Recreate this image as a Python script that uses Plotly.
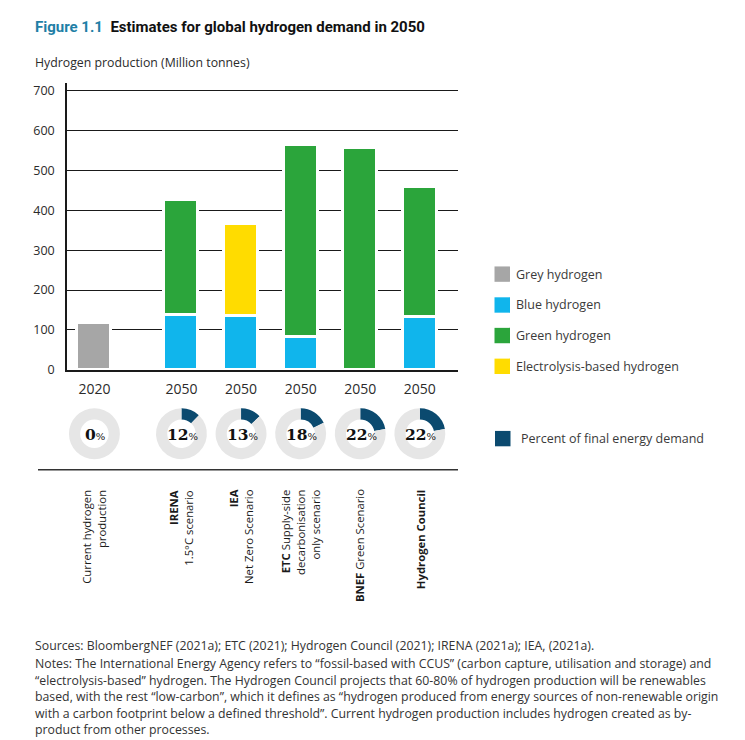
import plotly.graph_objects as go

# ---------------- data ----------------
years = ["2020", "2050", "2050", "2050", "2050", "2050"]
scenario_labels = [
    "Current hydrogen<br>production",
    "<b>IRENA</b><br>1.5°C scenario",
    "<b>IEA</b><br>Net Zero Scenario",
    "<b>ETC</b> Supply-side<br>decarbonisation<br>only scenario",
    "<b>BNEF</b> Green Scenario",
    "<b>Hydrogen Council</b>",
]
grey_h2 = [117, None, None, None, None, None]
blue_h2 = [None, 138, 136, 82, None, 134]
green_h2 = [None, 288, None, 483, 556, 324]
electrolysis_h2 = [None, None, 229, None, None, None]
pct_final_energy = [0, 12, 13, 18, 22, 22]

series_names = ["Grey hydrogen", "Blue hydrogen", "Green hydrogen", "Electrolysis-based hydrogen"]
series_colors = ["#a6a6a6", "#10b5ec", "#2ba53b", "#ffdc00"]
pct_name = "Percent of final energy demand"
navy = "#0b4a6f"
ring_grey = "#e6e6e6"

# ---------------- layout helpers ----------------
W, H = 745, 740          # target picture size (coordinates below are in these pixels)
FW, FH = 745, 748        # figure size (the capture is squeezed vertically to 740)
GAP = 0.46               # extra gap between the 2020 bar and the 2050 group
xpos = [i + (GAP if i > 0 else 0) for i in range(len(years))]
XR = [-0.46, xpos[-1] + 0.64]
PX0, PX1 = 67, 458       # plot area in pixels (x)
PY0, PY1 = 82, 369.3     # plot area in pixels (y top, bottom)

def px(x):
    return x / W

def py(y):
    return 1 - y / H

def data_to_px(x):
    return PX0 + (x - XR[0]) / (XR[1] - XR[0]) * (PX1 - PX0)

TXT = "#2b2b2b"
SANS = "Open Sans"

fig = go.Figure()

for name, vals, col in zip(series_names, [grey_h2, blue_h2, green_h2, electrolysis_h2], series_colors):
    fig.add_trace(go.Bar(
        x=xpos, y=vals, name=name, width=0.57,
        marker=dict(color=col, line=dict(color="white", width=3)),
        showlegend=False, hoverinfo="skip",
    ))

# donuts
DCY, DR = 433.3, 25.5
annotations = []
for i, p in enumerate(pct_final_energy):
    cx = data_to_px(xpos[i])
    fig.add_trace(go.Pie(
        values=[p, 100 - p], labels=[pct_name, "other"],
        marker=dict(colors=[navy, ring_grey], line=dict(width=0)),
        hole=0.56, sort=False, direction="clockwise", rotation=0,
        textinfo="none", hoverinfo="skip", showlegend=False,
        domain=dict(x=[px(cx - DR), px(cx + DR)], y=[py(DCY + DR), py(DCY - DR)]),
    ))
    annotations.append(dict(
        x=px(cx + 1), y=py(DCY + 1), xref="paper", yref="paper",
        text=f"<b>{p}</b><span style='font-size:10px'>%</span>",
        showarrow=False, xanchor="center", yanchor="middle",
        font=dict(family="DejaVu Serif", size=15.5, color="#111111"),
    ))

# rotated scenario labels
for i, lab in enumerate(scenario_labels):
    annotations.append(dict(
        x=xpos[i], y=py(487), xref="x", yref="paper",
        text=lab, textangle=-90, align="right",
        showarrow=False, xanchor="center", yanchor="top",
        font=dict(family=SANS, size=11.3, color="#1a1a1a"),
    ))

# title & axis title
annotations.append(dict(
    x=px(33), y=py(26), xref="paper", yref="paper", xanchor="left", yanchor="middle",
    text="<span style='color:#1f7fa6'><b>Figure 1.1</b></span>  <b>Estimates for global hydrogen demand in 2050</b>",
    showarrow=False, font=dict(family="Roboto", size=15, color="#111111"),
))
annotations.append(dict(
    x=px(33), y=py(62), xref="paper", yref="paper", xanchor="left", yanchor="middle",
    text="Hydrogen production (Million tonnes)",
    showarrow=False, font=dict(family=SANS, size=12.3, color=TXT),
))

# legend (manual)
shapes = []
legend_rows = list(zip(series_names, series_colors, [273.5, 304.4, 335.0, 365.8]))
for name, col, cy in legend_rows:
    shapes.append(dict(type="rect", xref="paper", yref="paper",
                       x0=px(494.5), x1=px(510), y0=py(cy + 7.7), y1=py(cy - 7.7),
                       fillcolor=col, line=dict(width=0)))
    annotations.append(dict(x=px(514), y=py(cy), xref="paper", yref="paper",
                            xanchor="left", yanchor="middle", text=name, showarrow=False,
                            font=dict(family=SANS, size=12.5, color="#3a3a3a")))
shapes.append(dict(type="rect", xref="paper", yref="paper",
                   x0=px(495), x1=px(510.5), y0=py(438.2 + 7.7), y1=py(438.2 - 7.7),
                   fillcolor=navy, line=dict(width=0)))
annotations.append(dict(x=px(519), y=py(438.2), xref="paper", yref="paper",
                        xanchor="left", yanchor="middle", text=pct_name, showarrow=False,
                        font=dict(family=SANS, size=12.5, color="#3a3a3a")))

# separator line under donuts
shapes.append(dict(type="line", xref="paper", yref="paper",
                   x0=px(38), x1=px(458), y0=py(469.3), y1=py(469.3),
                   line=dict(color="#333333", width=1.5)))

# footer
footer_lines = [
    "Sources: BloombergNEF (2021a); ETC (2021); Hydrogen Council (2021); IRENA (2021a); IEA, (2021a).",
    "Notes: The International Energy Agency refers to \u201cfossil-based with CCUS\u201d (carbon capture, utilisation and storage) and",
    "\u201celectrolysis-based\u201d hydrogen. The Hydrogen Council projects that 60-80% of hydrogen production will be renewables",
    "based, with the rest \u201clow-carbon\u201d, which it defines as \u201chydrogen produced from energy sources of non-renewable origin",
    "with a carbon footprint below a defined threshold\u201d. Current hydrogen production includes hydrogen created as by-",
    "product from other processes.",
]
footer_y = [645.7, 663.3, 680.0, 696.7, 713.3, 729.0]
for t, yy in zip(footer_lines, footer_y):
    annotations.append(dict(x=px(33), y=py(yy), xref="paper", yref="paper",
                            xanchor="left", yanchor="middle", text=t, showarrow=False,
                            font=dict(family=SANS, size=12.3, color="#333333")))

fig.update_layout(
    width=FW, height=FH, margin=dict(l=0, r=0, t=0, b=0),
    paper_bgcolor="white", plot_bgcolor="white",
    barmode="stack", bargap=0,
    xaxis=dict(domain=[px(PX0), px(PX1)], range=XR, tickvals=xpos, ticktext=years,
               showline=True, linecolor="#1a1a1a", linewidth=1.5, showgrid=False,
               zeroline=False, ticks="", ticklabelstandoff=6,
               tickfont=dict(family=SANS, size=14, color=TXT), fixedrange=True),
    yaxis=dict(domain=[py(PY1), py(PY0)], range=[0, 720], tickvals=list(range(0, 701, 100)),
               showline=True, linecolor="#1a1a1a", linewidth=1.5, showgrid=True,
               gridcolor="#1a1a1a", gridwidth=1.2, zeroline=False, ticks="",
               ticklabelstandoff=8, tickfont=dict(family=SANS, size=12.5, color=TXT),
               fixedrange=True),
    annotations=annotations, shapes=shapes,
)

fig.write_html("out.html", config={"displayModeBar": False},
               post_script="document.body.style.margin='0px';")
